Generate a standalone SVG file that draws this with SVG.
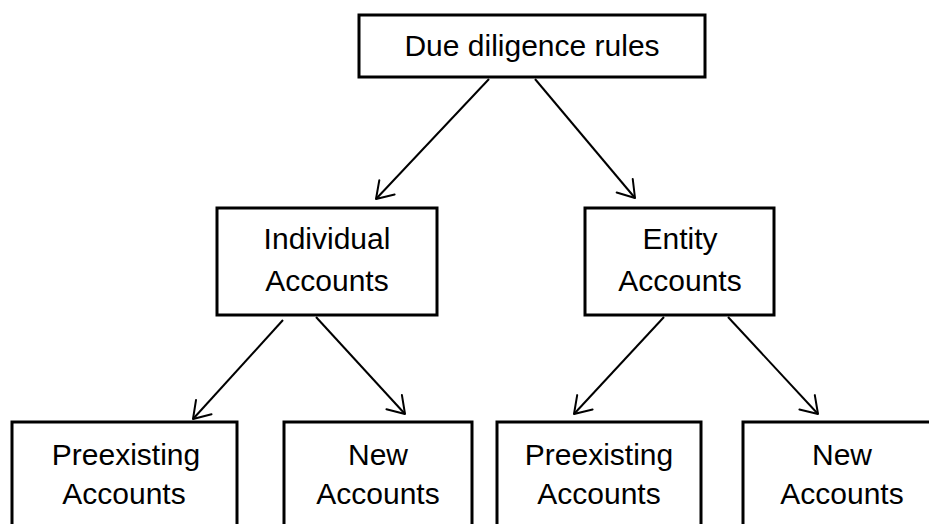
<svg xmlns="http://www.w3.org/2000/svg" width="929" height="524" viewBox="0 0 929 524">
<style>
.box{fill:#fff;stroke:#000;stroke-width:3}
.lbl{font-family:"Liberation Sans",Arial,sans-serif;font-size:30px;fill:#000;text-anchor:middle}
.conn{stroke:#000;stroke-width:2;fill:none;marker-end:url(#arr)}
</style>
<defs>
<marker id="arr" markerUnits="userSpaceOnUse" markerWidth="30" markerHeight="30" refX="0" refY="0" orient="auto" overflow="visible">
<path d="M -16 -10.5 L 0 0 L -16 10.5" fill="none" stroke="#000" stroke-width="2" stroke-linecap="round" stroke-linejoin="round"/>
</marker>
</defs>
<rect width="929" height="524" fill="#fff"/>
<g id="connectors">
<line class="conn" x1="489" y1="79" x2="376" y2="199"/>
<line class="conn" x1="535" y1="79" x2="635" y2="198"/>
<line class="conn" x1="283" y1="320" x2="193" y2="419"/>
<line class="conn" x1="316" y1="317" x2="405" y2="414"/>
<line class="conn" x1="664" y1="317" x2="574" y2="414"/>
<line class="conn" x1="728" y1="317" x2="818" y2="414"/>
</g>
<g id="root">
<rect class="box" x="359" y="15" width="346" height="62"/>
<text class="lbl" x="532" y="56">Due diligence rules</text>
</g>
<g id="individual">
<rect class="box" x="217" y="208" width="220" height="107"/>
<text class="lbl" x="327" y="249">Individual</text>
<text class="lbl" x="327" y="291">Accounts</text>
</g>
<g id="entity">
<rect class="box" x="585" y="208" width="189" height="107"/>
<text class="lbl" x="680" y="249">Entity</text>
<text class="lbl" x="680" y="291">Accounts</text>
</g>
<g id="ind-preexisting">
<rect class="box" x="12" y="422" width="225" height="130"/>
<text class="lbl" x="126" y="465">Preexisting</text>
<text class="lbl" x="124" y="504">Accounts</text>
</g>
<g id="ind-new">
<rect class="box" x="284" y="422" width="188" height="130"/>
<text class="lbl" x="378" y="465">New</text>
<text class="lbl" x="378" y="504">Accounts</text>
</g>
<g id="ent-preexisting">
<rect class="box" x="497" y="422" width="204" height="130"/>
<text class="lbl" x="599" y="465">Preexisting</text>
<text class="lbl" x="599" y="504">Accounts</text>
</g>
<g id="ent-new">
<rect class="box" x="743" y="422" width="198" height="130"/>
<text class="lbl" x="842" y="465">New</text>
<text class="lbl" x="842" y="504">Accounts</text>
</g>
</svg>
